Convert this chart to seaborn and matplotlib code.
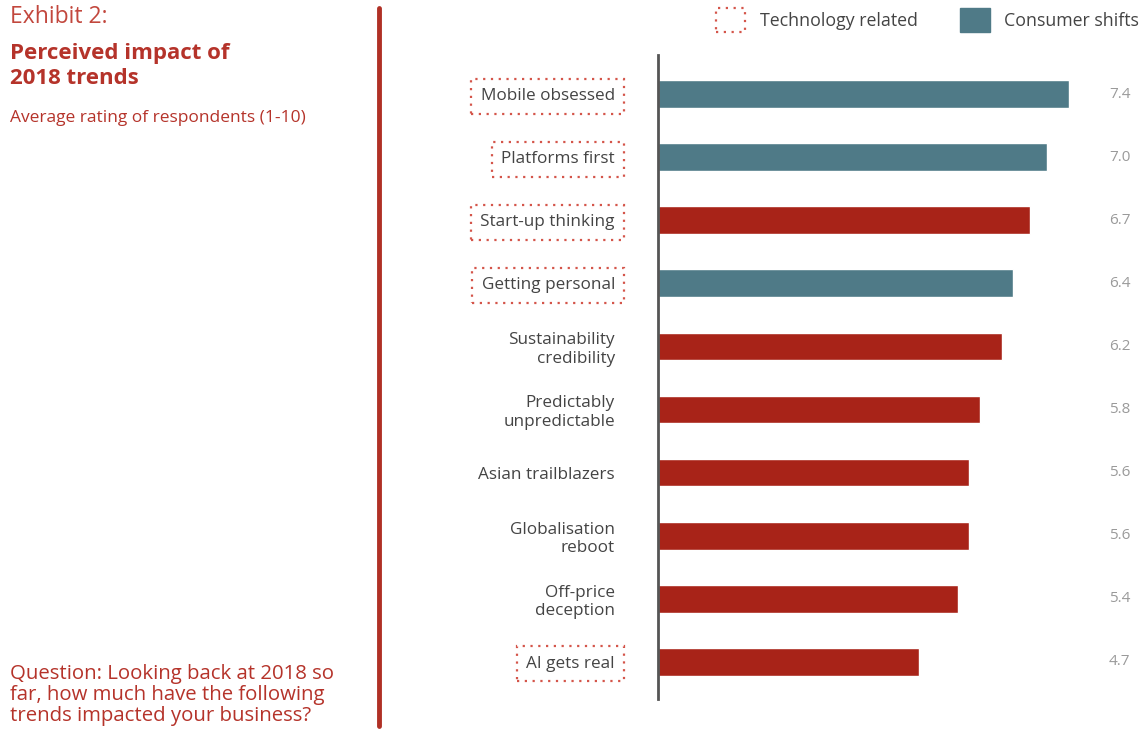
import matplotlib
matplotlib.use("Agg")
import matplotlib.pyplot as plt
from matplotlib.lines import Line2D
from matplotlib.patches import Patch
import seaborn as sns
import pandas as pd

categories = ["Mobile obsessed", "Platforms first", "Start-up thinking", "Getting personal",
              "Sustainability\ncredibility", "Predictably\nunpredictable", "Asian trailblazers",
              "Globalisation\nreboot", "Off-price\ndeception", "AI gets real"]
values = [7.4, 7.0, 6.7, 6.4, 6.2, 5.8, 5.6, 5.6, 5.4, 4.7]
group = ["Consumer shifts", "Consumer shifts", "Other", "Consumer shifts", "Other",
         "Other", "Other", "Other", "Other", "Other"]
tech_related = [True, True, True, True, False, False, False, False, False, True]
value_labels = ["7.4", "7.0", "6.7", "6.4", "6.2", "5.8", "5.6", "5.6", "5.4", "4.7"]

TEAL = "#4f7a87"
RED = "#a82318"
TITLE_RED = "#b5332a"
DOT_RED = "#d4554a"

sns.set_style("white")
plt.rcParams['font.family'] = ['Open Sans', 'DejaVu Sans']

df = pd.DataFrame({"category": categories, "value": values, "group": group})

fig = plt.figure(figsize=(11.44, 7.31), dpi=100)
ax = fig.add_axes([658 / 1144, (731 - 699) / 731, 8.5 * 55.5 / 1144, 644 / 731])

sns.barplot(data=df, x="value", y="category", hue="group", orient="h", dodge=False,
            palette={"Consumer shifts": TEAL, "Other": RED}, width=0.44,
            legend=False, ax=ax, saturation=1)

ax.set_xlim(0, 8.5)
ax.set_ylim(9.59, -0.62)
ax.set_xlabel("")
ax.set_ylabel("")
ax.set_xticks([])
for s in ["top", "right", "bottom"]:
    ax.spines[s].set_visible(False)
ax.spines["left"].set_color("#555555")
ax.spines["left"].set_linewidth(2)
ax.tick_params(axis="y", length=0, pad=31, labelsize=12.3, labelcolor="#444444")

for lbl, tech in zip(ax.get_yticklabels(), tech_related):
    lbl.set_multialignment("right")
    lbl.set_linespacing(1.2)
    if tech:
        lbl.set_bbox(dict(boxstyle="square,pad=0.55", fc="none", ec=DOT_RED,
                          ls=(0, (1, 2.5)), lw=1.6))

for i, (v, t) in enumerate(zip(values, value_labels)):
    ax.text(8.32, i, t, ha="center", va="center", fontsize=11, color="#9a9a9a")

# Left side texts
fig.text(10 / 1144, 1 - 17 / 731, "Exhibit 2:", fontsize=16.5, color="#c2473d",
         ha="left", va="center")
fig.text(10 / 1144, 1 - 66 / 731, "Perceived impact of\n2018 trends", fontsize=16,
         fontweight="bold", color=TITLE_RED, ha="left", va="center", linespacing=1.3)
fig.text(10 / 1144, 1 - 118 / 731, "Average rating of respondents (1-10)", fontsize=12.5,
         color=TITLE_RED, ha="left", va="center")
fig.text(10 / 1144, 1 - 695 / 731,
         "Question: Looking back at 2018 so\nfar, how much have the following\ntrends impacted your business?",
         fontsize=14.7, color=TITLE_RED, ha="left", va="center", linespacing=1.05)

# Vertical separator line
fig.add_artist(Line2D([379 / 1144, 379 / 1144], [1 - 8 / 731, 1 - 726 / 731],
                      transform=fig.transFigure, color="#b03025", lw=3.5))

# Legend
handles = [Patch(fc="none", ec=DOT_RED, ls=(0, (1, 2.5)), lw=1.6, label="Technology related"),
           Patch(fc=TEAL, ec=TEAL, label="Consumer shifts")]
fig.legend(handles=handles, loc="upper right", bbox_to_anchor=(1.0, 0.996), ncol=2,
           frameon=False, fontsize=12.8, handlelength=1.65, handleheight=1.65,
           columnspacing=2.4, handletextpad=0.8, labelcolor="#444444",
           borderaxespad=0.0, borderpad=0.3)

fig.savefig("out.png", dpi=100)
